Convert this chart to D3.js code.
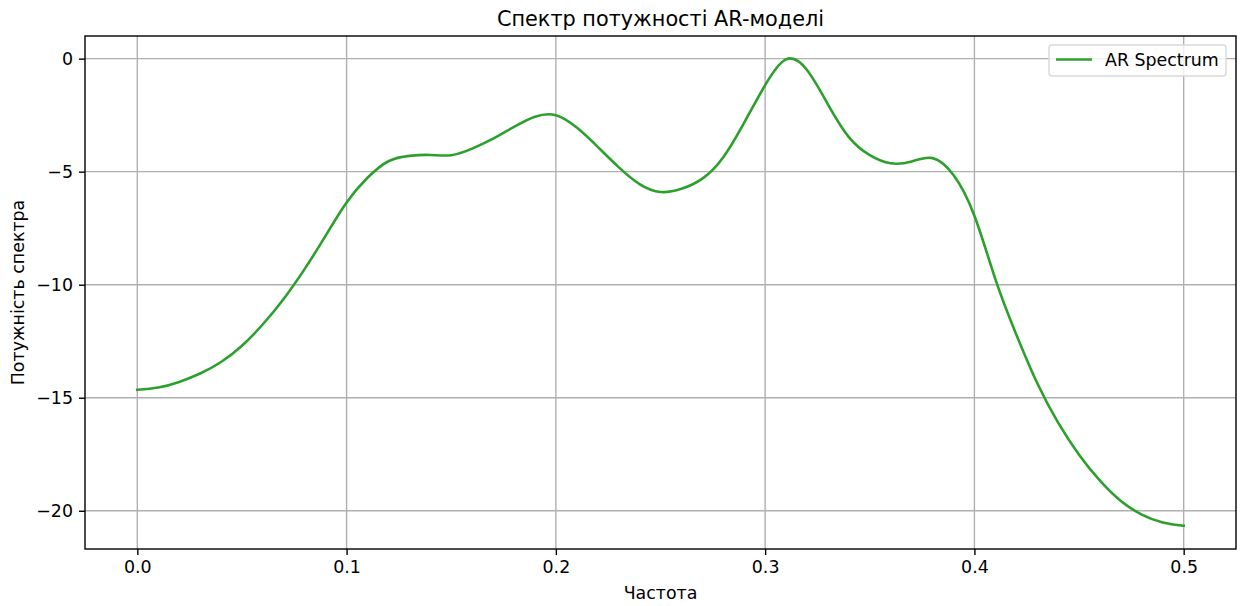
<!DOCTYPE html>
<html>
<head>
<meta charset="utf-8">
<script src="https://cdn.jsdelivr.net/npm/d3@7"></script>
<style>
  html, body { margin: 0; padding: 0; background: #fff; }
  svg { display: block; font-family: "DejaVu Sans", sans-serif; }
</style>
</head>
<body>
<svg id="chart" width="1240" height="606"></svg>
<script>
// Frequency grid (cycles/sample), step 0.01
const freq = [0.00, 0.01, 0.02, 0.03, 0.04, 0.05, 0.06, 0.07, 0.08, 0.09,
              0.10, 0.11, 0.12, 0.13, 0.14, 0.15, 0.16, 0.17, 0.18, 0.19,
              0.20, 0.21, 0.22, 0.23, 0.24, 0.25, 0.26, 0.27, 0.28, 0.29,
              0.30, 0.31, 0.32, 0.33, 0.34, 0.35, 0.36, 0.37, 0.38, 0.39,
              0.40, 0.41, 0.42, 0.43, 0.44, 0.45, 0.46, 0.47, 0.48, 0.49, 0.50];
// AR power spectrum at those frequencies
const power = [-14.65, -14.55, -14.30, -13.93, -13.42, -12.70, -11.75, -10.62, -9.30, -7.83,
               -6.36, -5.27, -4.54, -4.30, -4.26, -4.27, -3.98, -3.54, -3.02, -2.57,
               -2.50, -3.05, -3.90, -4.80, -5.55, -5.90, -5.76, -5.31, -4.36, -2.83,
               -1.17, -0.03, -0.50, -2.02, -3.47, -4.27, -4.63, -4.55, -4.40, -5.15,
               -6.95, -9.75, -12.20, -14.35, -16.10, -17.52, -18.67, -19.57, -20.17, -20.52,
               -20.66];
const xTicks = [0.0, 0.1, 0.2, 0.3, 0.4, 0.5];
const yTicks = [0, -5, -10, -15, -20];
const seriesName = "AR Spectrum";

const svg = d3.select("#chart");
const L = 85, R = 1236, T = 36, B = 549;
const FS = 17.4, FT = 20.8;

// 5% padding around the data range
const xr = d3.extent(freq), yr = d3.extent(power);
const xPad = (xr[1] - xr[0]) * 0.05, yPad = (yr[1] - yr[0]) * 0.05;
const x = d3.scaleLinear().domain([xr[0] - xPad, xr[1] + xPad]).range([L, R]);
const y = d3.scaleLinear().domain([yr[0] - yPad, yr[1] + yPad]).range([B, T]);

// Grid
const grid = svg.append("g");
grid.selectAll("line.vx").data(xTicks).join("line")
  .attr("x1", d => x(d)).attr("x2", d => x(d)).attr("y1", T).attr("y2", B)
  .attr("stroke", "#b0b0b0").attr("stroke-width", 1.4);
grid.selectAll("line.hy").data(yTicks).join("line")
  .attr("x1", L).attr("x2", R).attr("y1", d => y(d)).attr("y2", d => y(d))
  .attr("stroke", "#b0b0b0").attr("stroke-width", 1.4);

// Spectrum line (uniform frequency step, so a natural spline is a smooth function of x)
const line = d3.line().x((d, i) => x(freq[i])).y(d => y(d)).curve(d3.curveNatural);
svg.append("path").datum(power)
  .attr("d", line).attr("fill", "none")
  .attr("stroke", "#2ca02c").attr("stroke-width", 2.6)
  .attr("stroke-linejoin", "round").attr("stroke-linecap", "square");

// Axes
const fmtX = d3.format(".1f");
const fmtY = d => (d < 0 ? "\u2212" + Math.abs(d) : String(d));
const xAxis = d3.axisBottom(x).tickValues(xTicks).tickFormat(fmtX).tickSizeOuter(0).tickSize(6).tickPadding(6);
const yAxis = d3.axisLeft(y).tickValues(yTicks).tickFormat(fmtY).tickSizeOuter(0).tickSize(6).tickPadding(6);

const gx = svg.append("g").attr("transform", `translate(0,${B})`).call(xAxis);
const gy = svg.append("g").attr("transform", `translate(${L},0)`).call(yAxis);
[gx, gy].forEach(g => {
  g.select(".domain").remove();
  g.selectAll(".tick line").attr("stroke", "#000").attr("stroke-width", 1.4);
  g.selectAll(".tick text").attr("fill", "#000").style("font-size", FS + "px")
    .style("font-family", "'DejaVu Sans', sans-serif");
});

// Frame
svg.append("rect").attr("x", L).attr("y", T).attr("width", R - L).attr("height", B - T)
  .attr("fill", "none").attr("stroke", "#000").attr("stroke-width", 1.4);

// Titles
svg.append("text").attr("x", (L + R) / 2).attr("y", 26).attr("text-anchor", "middle")
  .style("font-size", FT + "px").text("Спектр потужності AR-моделі");
svg.append("text").attr("x", (L + R) / 2).attr("y", 599).attr("text-anchor", "middle")
  .style("font-size", FS + "px").text("Частота");
svg.append("text").attr("transform", `translate(24,${(T + B) / 2}) rotate(-90)`)
  .attr("text-anchor", "middle").style("font-size", FS + "px").text("Потужність спектра");

// Legend
const lg = svg.append("g").attr("transform", "translate(1049,45)");
lg.append("rect").attr("width", 177).attr("height", 31).attr("rx", 3)
  .attr("fill", "#fff").attr("fill-opacity", 0.8).attr("stroke", "#d9d9d9").attr("stroke-width", 1.4);
lg.append("line").attr("x1", 7).attr("x2", 43).attr("y1", 14.5).attr("y2", 14.5)
  .attr("stroke", "#2ca02c").attr("stroke-width", 2.6);
lg.append("text").attr("x", 56).attr("y", 21).style("font-size", FS + "px").text(seriesName);
</script>
</body>
</html>
